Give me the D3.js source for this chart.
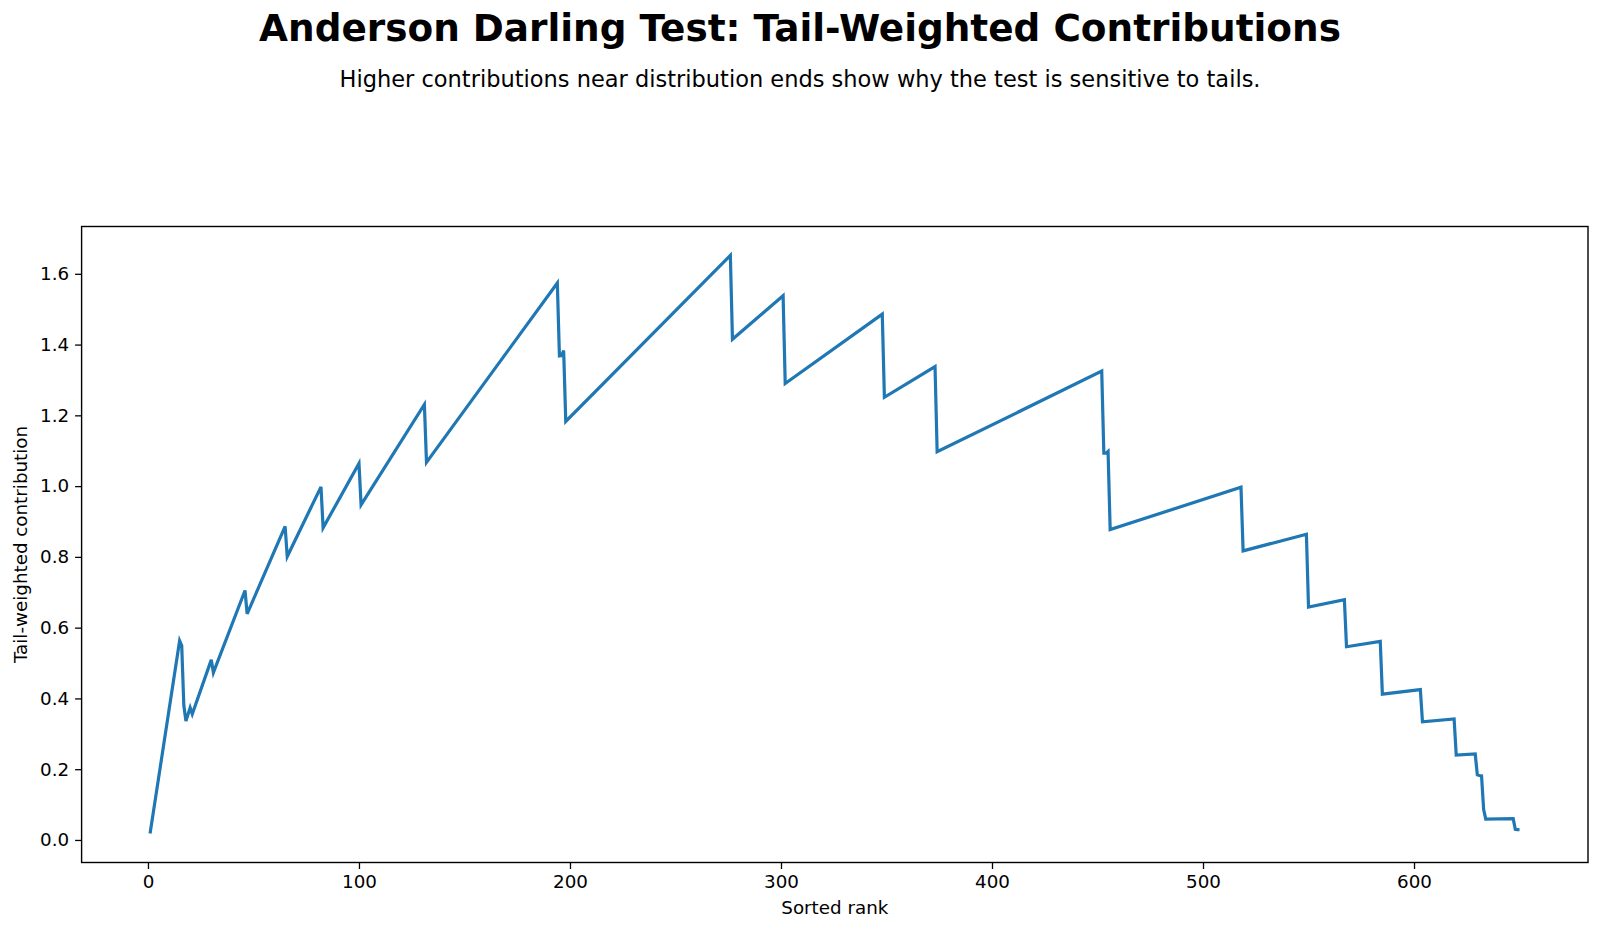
<!DOCTYPE html>
<html>
<head>
<meta charset="utf-8">
<script src="https://cdn.jsdelivr.net/npm/d3@7"></script>
<style>
  html, body { margin: 0; padding: 0; background: #fff; }
  svg { display: block; font-family: "DejaVu Sans", sans-serif; }
</style>
</head>
<body>
<svg id="chart" width="1600" height="932"></svg>
<script>
// ---- Data (vertices of the contribution curve) ----
const ranks = [1, 15, 16, 17, 18, 20, 21, 30, 31, 46, 47, 65, 66, 82, 83, 100, 101, 131, 132,
  194, 195, 196, 197, 198, 276, 277, 301, 302, 348, 349, 373, 374, 452, 453, 454, 455, 456,
  518, 519, 549, 550, 567, 568, 584, 585, 603, 604, 619, 620, 629, 630, 631, 632, 633, 634,
  647, 648, 649, 650];
const contributions = [0.018, 0.563, 0.549, 0.380, 0.336, 0.374, 0.356, 0.509, 0.473, 0.705, 0.639,
  0.886, 0.801, 0.998, 0.882, 1.064, 0.947, 1.231, 1.067,
  1.574, 1.368, 1.369, 1.383, 1.183, 1.652, 1.415, 1.538, 1.290, 1.486, 1.251, 1.338, 1.097,
  1.325, 1.093, 1.093, 1.098, 0.877,
  0.997, 0.817, 0.864, 0.658, 0.679, 0.546, 0.561, 0.412, 0.425, 0.334, 0.342, 0.240,
  0.243, 0.184, 0.182, 0.181, 0.086, 0.059, 0.060, 0.030, 0.029, 0.029];
const xTicks = [0, 100, 200, 300, 400, 500, 600];
const yTicks = [0.0, 0.2, 0.4, 0.6, 0.8, 1.0, 1.2, 1.4, 1.6];
const titleText = "Anderson Darling Test: Tail-Weighted Contributions";
const subtitleText = "Higher contributions near distribution ends show why the test is sensitive to tails.";
const xLabel = "Sorted rank";
const yLabel = "Tail-weighted contribution";

// ---- Layout ----
const plot = { left: 81.6, right: 1588, top: 226.5, bottom: 862.5 };
const svg = d3.select("#chart");
const tickFont = 18.3, tickLen = 6.5, tickPad = 6;

const points = ranks.map((r, i) => ({ x: r, y: contributions[i] }));

function padded(ext) {
  const d = ext[1] - ext[0];
  return [ext[0] - 0.05 * d, ext[1] + 0.05 * d];
}
const x = d3.scaleLinear().domain(padded(d3.extent(ranks))).range([plot.left, plot.right]);
const y = d3.scaleLinear().domain(padded(d3.extent(contributions))).range([plot.bottom, plot.top]);

// Title & subtitle
svg.append("text").attr("x", 800).attr("y", 41).attr("text-anchor", "middle")
  .attr("font-size", 37.4).attr("font-weight", "bold").attr("fill", "#000").text(titleText);
svg.append("text").attr("x", 800).attr("y", 87).attr("text-anchor", "middle")
  .attr("font-size", 22.5).attr("fill", "#000").text(subtitleText);

// Line
svg.append("clipPath").attr("id", "clip").append("rect")
  .attr("x", plot.left).attr("y", plot.top)
  .attr("width", plot.right - plot.left).attr("height", plot.bottom - plot.top);

svg.append("path").datum(points)
  .attr("clip-path", "url(#clip)")
  .attr("fill", "none").attr("stroke", "#1f77b4").attr("stroke-width", 3.2)
  .attr("stroke-linejoin", "miter").attr("stroke-linecap", "butt")
  .attr("d", d3.line().x(d => x(d.x)).y(d => y(d.y)));

// Axes
const xAxis = d3.axisBottom(x).tickValues(xTicks).tickFormat(d3.format("d"))
  .tickSizeInner(tickLen).tickSizeOuter(0).tickPadding(tickPad);
const yAxis = d3.axisLeft(y).tickValues(yTicks).tickFormat(d3.format(".1f"))
  .tickSizeInner(tickLen).tickSizeOuter(0).tickPadding(tickPad);

const gx = svg.append("g").attr("transform", `translate(0,${plot.bottom})`).call(xAxis);
const gy = svg.append("g").attr("transform", `translate(${plot.left},0)`).call(yAxis);
[gx, gy].forEach(g => {
  g.select(".domain").remove();
  g.selectAll(".tick line").attr("stroke", "#000").attr("stroke-width", 1.3);
  g.selectAll(".tick text").attr("fill", "#000").attr("font-size", tickFont)
    .attr("font-family", "DejaVu Sans, sans-serif");
});

// Frame (spines)
svg.append("rect").attr("x", plot.left).attr("y", plot.top)
  .attr("width", plot.right - plot.left).attr("height", plot.bottom - plot.top)
  .attr("fill", "none").attr("stroke", "#000").attr("stroke-width", 1.4);

// Axis labels
svg.append("text").attr("x", (plot.left + plot.right) / 2).attr("y", 914)
  .attr("text-anchor", "middle").attr("font-size", tickFont).attr("fill", "#000").text(xLabel);
svg.append("text")
  .attr("transform", `translate(27,${(plot.top + plot.bottom) / 2}) rotate(-90)`)
  .attr("text-anchor", "middle").attr("font-size", tickFont).attr("fill", "#000").text(yLabel);
</script>
</body>
</html>
